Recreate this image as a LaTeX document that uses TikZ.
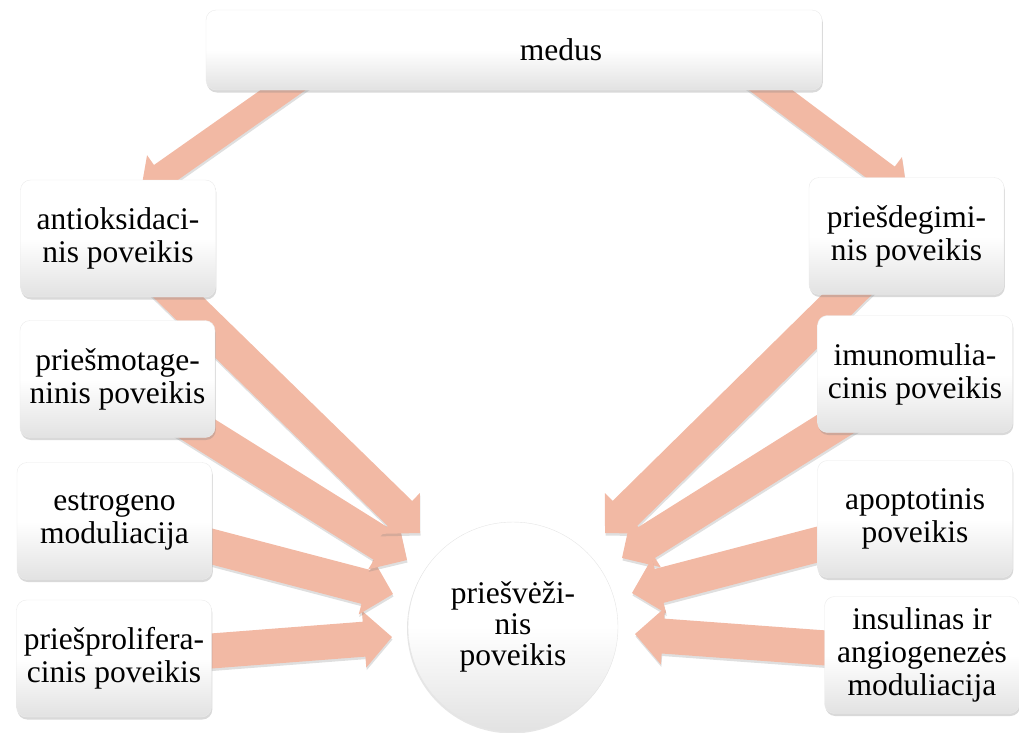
\documentclass[tikz,border=0pt]{standalone}
\usepackage{fontspec}
\setmainfont{Liberation Serif}
\usetikzlibrary{calc,shadows,backgrounds}
\definecolor{arrowc}{HTML}{F2B9A4}
\definecolor{boxbot}{HTML}{E2E2E2}
\tikzset{
 box/.style={rounded corners=10pt, minimum width=195pt, minimum height=117pt, inner sep=2pt,
   align=center, top color=white, bottom color=boxbot, middle color=white, draw=black!8,
   drop shadow={opacity=0.3, shadow xshift=0.8pt, shadow yshift=-2.5pt},
   font=\fontsize{31.5}{33}\selectfont},
 circ/.style={circle, minimum size=210pt, inner sep=0pt, align=center,
   top color=white, bottom color=boxbot, middle color=white, draw=black!10,
   drop shadow={opacity=0.2, shadow xshift=-1pt, shadow yshift=-1.5pt},
   font=\fontsize{31.5}{31}\selectfont},
 arrowfill/.style={fill=arrowc, drop shadow={opacity=0.25, shadow xshift=0.5pt, shadow yshift=-2.5pt}}
}
% #1 tail, #2 tip, #3 half shaft width, #4 half head width, #5 head length
\newcommand\blockarrow[5]{%
 \coordinate (#2-h) at ($(#2)!#5!(#1)$);
 \fill[arrowfill] ($(#1)!#3!90:(#2)$) -- ($(#2-h)!#3!90:(#2)$) -- ($(#2-h)!#4!90:(#2)$) -- (#2)
   -- ($(#2-h)!#4!-90:(#2)$) -- ($(#2-h)!#3!-90:(#2)$) -- ($(#1)!#3!-90:(#2)$) -- cycle;}
\begin{document}
\begin{tikzpicture}[x=1pt,y=-1pt]
\useasboundingbox (0,0) rectangle (1019,732);
% boxes
\node[box, minimum width=616pt, minimum height=80pt] (medus) at (514,50) {\hspace*{94pt}medus};
\node[box] (anti) at (118,238.5) {antioksidaci-\\nis poveikis};
\node[box] (motag) at (117.5,379) {priešmotage-\\ninis poveikis};
\node[box] (estro) at (114.5,521) {estrogeno\\moduliacija};
\node[box] (prolif) at (114,658.5) {priešprolifera-\\cinis poveikis};
\node[box] (degim) at (906.5,236) {priešdegimi-\\nis poveikis};
\node[box] (imuno) at (915,374) {imunomulia-\\cinis poveikis};
\node[box] (apopt) at (915,519) {apoptotinis\\poveikis};
\node[box] (insul) at (922,655) {insulinas ir\\angiogenezės\\moduliacija};
\node[circ] (center) at (513,627) {priešvėži-\\nis\\poveikis};
% arrow end points
\coordinate (sL) at (340,50);
\coordinate (tL) at (141,190);
\coordinate (sR) at (717,50);
\coordinate (tR) at (907,192);
\coordinate (tA) at (420,533);
\coordinate (tB) at (407,560);
\coordinate (tC) at (393,594);
\coordinate (tD) at (392,637);
\coordinate (tE) at (605,533);
\coordinate (tF) at (622,558);
\coordinate (tG) at (632,593);
\coordinate (tH) at (635,634);
\begin{pgfonlayer}{background}
\blockarrow{sL}{tL}{13pt}{25pt}{25pt}
\blockarrow{sR}{tR}{13pt}{25pt}{25pt}
\blockarrow{prolif.center}{tD}{17.5pt}{28.5pt}{28pt}
\blockarrow{estro.center}{tC}{17.5pt}{28.5pt}{28pt}
\blockarrow{motag.center}{tB}{17.5pt}{28.5pt}{28pt}
\blockarrow{anti.center}{tA}{17.5pt}{28.5pt}{28pt}
\blockarrow{degim.center}{tE}{17.5pt}{28.5pt}{28pt}
\blockarrow{imuno.center}{tF}{17.5pt}{28.5pt}{28pt}
\blockarrow{apopt.center}{tG}{17.5pt}{28.5pt}{28pt}
\blockarrow{insul.center}{tH}{17.5pt}{28.5pt}{28pt}
\end{pgfonlayer}
\end{tikzpicture}
\end{document}
